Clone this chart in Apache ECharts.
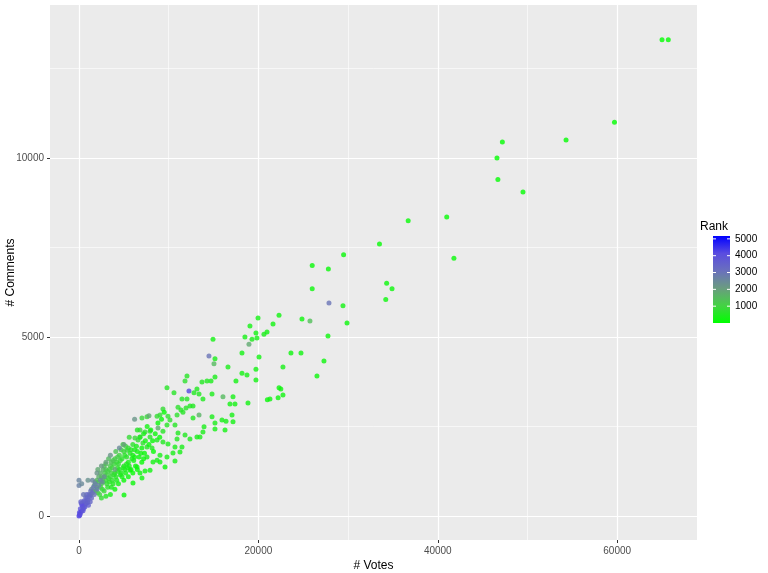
<!DOCTYPE html>
<html>
<head>
<meta charset="utf-8">
<script src="https://cdn.jsdelivr.net/npm/echarts@6/dist/echarts.min.js"></script>
<style>html,body{margin:0;padding:0;background:#fff}#chart{width:768px;height:573px}</style>
</head>
<body>
<div id="chart"></div>
<script>
// [votes, comments, rank]
var outliers = [
	[65000,13300,10],[65700,13300,20],[59700,11000,30],[54300,10500,40],[47200,10450,50],[46600,10000,60],
	[46700,9400,70],[49500,9050,80],[41000,8350,90],[36700,8250,100],[33500,7600,110],[41800,7200,120],
	[26000,7000,130],[27800,6900,140],[29500,7300,150],[34300,6500,160],[34900,6350,170],[34200,6050,180],
	[26000,6350,190],[21000,3250,200],[22200,3300,210],[22500,3550,220]
];
var midCloud = [
	[27870,5950,3000],[29430,5870,300],[29880,5390,200],[22300,5610,250],[19960,5530,300],[24860,5500,200],
	[25750,5450,1400],[19060,5310,300],[21630,5360,250],[20960,5140,300],[20620,5080,400],[19730,5110,300],
	[18500,5000,350],[19840,4970,300],[19290,4940,400],[18950,4800,1800],[14940,4940,300],[27760,5030,200],
	[23630,4550,200],[24750,4550,250],[18170,4550,300],[20070,4440,250],[14490,4470,3000],[15160,4390,400],
	[15050,4250,1500],[27310,4330,200],[16610,4160,400],[19730,4100,300],[22740,4160,350],[18170,3990,300],
	[18730,3940,350],[19730,3800,300],[17500,3770,300],[26530,3910,200],[12040,3910,600],[11820,3770,700],
	[13710,3740,500],[14270,3770,500],[14720,3770,400],[15160,3880,400],[12260,3490,4200],[13150,3550,500],
	[9810,3580,600],[10590,3440,600],[12820,3440,500],[13380,3410,500],[13820,3270,450],[14830,3410,400],
	[16050,3330,1500],[17170,3330,350],[16830,3130,300],[17390,3130,300],[18840,3160,300],[22300,3580,250],
	[22740,3380,250],[21290,3270,250],[11480,3270,600],[12040,3270,600],[11040,3040,700],[11370,2960,600],
	[11930,3020,600],[12370,3070,500],[12710,3070,500],[11590,2900,600],[13380,2820,1600],[12710,2740,500],
	[14830,2770,400],[15160,2600,400],[15940,2680,350],[16390,2650,350],[17060,2820,350],[17170,2630,300],
	[16280,2400,300],[15160,2430,350],[13940,2490,400],[13820,2350,400],[13150,2210,400],[13490,2210,400],
	[12370,2150,450],[11820,2260,500],[11040,2320,500],[10930,2150,500],[10700,2540,600],[10140,2680,700],
	[9920,2790,700],[10930,2820,700],[9030,2820,800],[9360,2990,800],[8700,2790,800],[7020,2740,900],
	[7580,2770,900],[6800,2400,900],[7360,2350,800],[7920,2370,800],[8810,2460,1700],[9360,2370,600],
	[9810,2540,600],[7920,2210,600],[8700,2120,500],[9360,2070,500],[9920,2010,400],[10700,1930,400],
	[11480,1930,400],[11260,1790,350],[10480,1760,400],[10700,1540,300],[9810,1650,400],[9030,1700,400],
	[8700,1560,350],[9030,1510,300],[8250,1510,300],[9590,1370,200],[7920,1280,250],[7360,1260,250],
	[7020,1060,200],[6020,920,200],[5020,590,150],[6800,1200,250],[7580,1650,400],[6470,1370,300],
	[5690,1280,300],[8140,1900,500],[7580,1930,600],[7130,2040,700],[6580,2120,800],[6800,2210,800],
	[6240,2180,900],[5350,1840,900]
];
var denseCore = [
	[2000,800,1200],[2500,900,1100],[3000,1000,900],[3500,1100,800],[4000,1200,700],[4500,1300,600],
	[5000,1400,500],[5500,1500,400],[6000,1700,300],[6500,1800,300],[7000,1900,200],[3000,1300,1300],
	[3500,1400,1200],[4000,1600,1100],[4500,1700,1000],[5000,1800,900],[5500,1900,800],[6000,2000,700],
	[2500,1100,1400],[2000,1000,1500],[3200,800,700],[3800,900,500],[4200,1000,400],[4800,1100,300],
	[5200,1200,300],[5800,1300,200],[6300,1400,200],[2800,700,900],[3600,1200,1000],[4400,1450,900],
	[5300,1650,600],[6800,2200,500],[7200,2300,400],[7600,2500,300],[6500,2400,600],[5600,2200,800],
	[4900,2000,1000],[4100,1800,1300],[3300,1600,1500],[2700,1300,1600],[2200,1100,1700],[1800,950,1800],
	[1600,700,1600],[2300,600,1000],[2600,750,800],[3400,950,600],[4600,1150,400],[5400,1350,350],
	[6100,1550,250],[6700,1650,200],[7300,1750,150],[7800,2000,200],[8200,2100,150],[8500,2300,200],
	[7000,1500,100],[6000,1200,100],[5000,1000,150],[4000,750,200],[3500,600,300],[3000,550,500],
	[2500,500,800],[4300,1350,700],[3900,1450,900],[3100,1150,1100],[2900,1200,1200],[5700,1750,500],
	[6400,1950,400],[7400,2100,300],[8000,2400,250],[8800,2600,200],[9200,2700,150],[9500,2900,100],
	[9000,2200,100],[8300,1800,100],
	[2100,650,1100],[2400,800,1000],[2700,950,950],[3100,900,800],[3300,1050,850],[3700,1000,700],
	[3900,1150,750],[4100,1100,600],[4300,1250,650],[4700,1200,500],[4900,1350,550],[5100,1300,450],
	[5300,1450,500],[5600,1400,400],[5900,1600,400],[6200,1650,350],[2200,950,1300],[2600,1050,1250],
	[2900,1100,1150],[3200,1250,1100],[3400,1300,1050],[3700,1350,950],[4200,1500,850],[4600,1550,750],
	[4800,1600,700],[5100,1700,650],[5800,1850,550],[6200,1850,450],[1900,700,1400],[1700,850,1700],
	[2400,1200,1600],[2800,1400,1500],[3800,1550,1200],[4300,1650,1100],[4700,1850,1000],[5200,1950,900],
	[3600,800,450],[4400,900,300],[5500,1100,200],[6500,1300,150],[7200,1600,150],[6900,1750,250],
	[3000,1450,1400],[3600,1500,1300],[1400,750,2000],[1300,600,2200],[2100,1300,1800]
];
var lowCluster = [
	[100,50,3800],[200,100,3900],[300,150,3700],[150,200,4000],[400,250,3600],[500,200,3700],[600,300,3500],
	[250,350,3800],[700,400,3500],[800,350,3400],[900,500,3300],[1000,450,3400],[1100,600,3200],
	[1200,550,3300],[1300,700,3100],[1500,650,3200],[1600,800,2900],[1400,500,3300],[350,300,4100],
	[50,100,4200],[0,0,4300],[80,20,4100],[450,150,3900],[550,420,3600],[650,250,3800],[750,520,3400],
	[850,600,3300],[950,380,3500],[1050,300,3600],[1250,400,3400],[1700,600,3000],[1800,900,2800],
	[2000,750,2900],[2200,850,2700],[2400,1000,2600],[2600,950,2500],[2800,1100,2400],[500,600,3000],
	[200,400,3500],[1500,1000,2600],
	[0,1000,2600],[0,850,2700],[300,900,2500],[1000,1000,2300],[2000,1200,2200],[3000,1500,2000],
	[3500,1700,2200],[4500,1900,2500],[5000,2000,2000],[2500,1400,2100],[6200,2700,2200],[7800,2800,1800],
	[4000,1300,1900]
];
var xTicks = [0, 20000, 40000, 60000];
var yTicks = [0, 5000, 10000];
var xMinor = [10000, 30000, 50000];
var yMinor = [2500, 7500, 12500];
var rankTicks = [1000, 2000, 3000, 4000, 5000];
var rankMax = 5170;

var points = outliers.concat(midCloud, denseCore, lowCluster);
var stops = ['#00ff00', '#44d244', '#6a9c80', '#6a70bd', '#5a4ce0', '#0000ff'];

var myChart = echarts.init(document.getElementById('chart'));

// colorbar legend
var barTop = 236, barH = 87, barLeft = 713;
var legendG = [
	{type:'text', left:700, top:221, style:{text:'Rank', fontSize:12, fill:'#000', fontFamily:'Liberation Sans'}},
	{type:'rect', shape:{x:barLeft, y:barTop, width:17, height:barH},
	 style:{fill:new echarts.graphic.LinearGradient(0,1,0,0, stops.map(function(c,i){return {offset:i/(stops.length-1), color:c};}))}}
];
rankTicks.forEach(function(r){
	var y = barTop + barH*(1 - r/rankMax);
	legendG.push({type:'line', shape:{x1:barLeft, y1:y, x2:barLeft+3, y2:y}, style:{stroke:'#fff', lineWidth:1}});
	legendG.push({type:'line', shape:{x1:barLeft+14, y1:y, x2:barLeft+17, y2:y}, style:{stroke:'#fff', lineWidth:1}});
	legendG.push({type:'text', x:barLeft+22, y:y, style:{text:String(r), fontSize:10, fill:'#000', verticalAlign:'middle', fontFamily:'Liberation Sans'}});
});

var plain = function(v){ return String(v); };

var option = {
	backgroundColor: '#fff',
	animation: false,
	grid: {left:50, right:71, top:5, bottom:33, outerBoundsMode:'none', containLabel:false,
		show:true, backgroundColor:'#EBEBEB', borderWidth:0},
	xAxis: {
		type:'value', min:-3233, max:68900,
		name:'# Votes', nameLocation:'middle', nameGap:20, nameMoveOverlap:false,
		nameTextStyle:{color:'#000', fontSize:12, fontFamily:'Liberation Sans'},
		axisLine:{show:false, onZero:false},
		axisTick:{show:true, length:3, lineStyle:{color:'#333'}, customValues:xTicks},
		axisLabel:{color:'#4D4D4D', fontSize:10, margin:6, customValues:xTicks, formatter:plain, fontFamily:'Liberation Sans'},
		splitLine:{show:true, lineStyle:{color:'#fff', width:1.2}}
	},
	yAxis: {
		type:'value', min:-670, max:14274,
		name:'# Comments', nameLocation:'middle', nameGap:33, nameMoveOverlap:false,
		nameTextStyle:{color:'#000', fontSize:12, fontFamily:'Liberation Sans'},
		axisLine:{show:false, onZero:false},
		axisTick:{show:true, length:3, lineStyle:{color:'#333'}, customValues:yTicks},
		axisLabel:{color:'#4D4D4D', fontSize:10, margin:6, customValues:yTicks, formatter:plain, fontFamily:'Liberation Sans'},
		splitLine:{show:true, lineStyle:{color:'#fff', width:1.2}}
	},
	visualMap: {show:false, type:'continuous', min:0, max:rankMax, dimension:2, seriesIndex:0, inRange:{color:stops}},
	graphic: legendG,
	series: [{
		type:'scatter', symbolSize:5, data:points, z:3,
		markLine: {
			silent:true, symbol:'none', label:{show:false}, z:1,
			lineStyle:{color:'#fff', width:0.6, type:'solid'},
			data: xMinor.map(function(v){return {xAxis:v};}).concat(yMinor.map(function(v){return {yAxis:v};}))
		}
	}]
};
myChart.setOption(option);
</script>
</body>
</html>
